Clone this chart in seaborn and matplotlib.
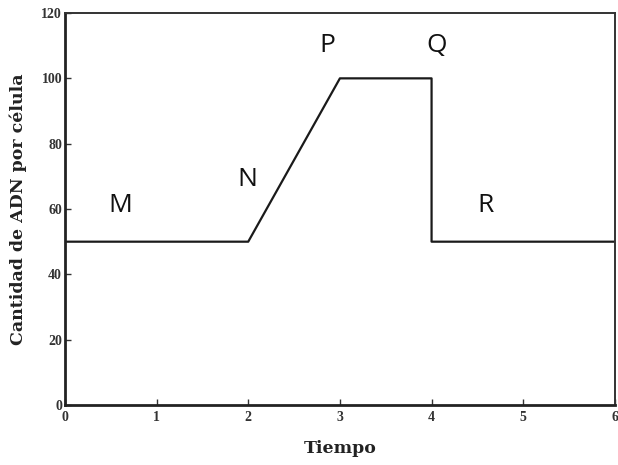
import matplotlib
matplotlib.use("Agg")
import matplotlib.pyplot as plt
import seaborn as sns
import pandas as pd

# Data
tiempo = [0, 2, 3, 4, 4, 6]
adn = [50, 50, 100, 100, 50, 50]
fase_labels = ["M", "N", "P", "Q", "R"]
fase_x = [0.6, 1.99, 2.86, 4.05, 4.59]
fase_y = [61, 69, 110, 110, 61]
xticks = [0, 1, 2, 3, 4, 5, 6]
yticks = [0, 20, 40, 60, 80, 100, 120]

sns.set_style("ticks")
plt.rcParams["font.family"] = ["Liberation Serif", "DejaVu Serif"]

df = pd.DataFrame({"Tiempo": tiempo, "ADN": adn})

fig = plt.figure(figsize=(6.18, 4.65), dpi=100)
ax = fig.add_axes([0.105, 0.129, 0.89, 0.843])
sns.lineplot(data=df, x="Tiempo", y="ADN", sort=False, ax=ax,
             color="#1a1a1a", linewidth=1.6, estimator=None)

ax.set_xlim(0, 6)
ax.set_ylim(0, 120)
ax.set_xticks(xticks)
ax.set_yticks(yticks)
ax.set_xticklabels([str(t) for t in xticks], fontsize=10, fontweight="bold", color="#222222")
ax.set_yticklabels([str(t) for t in yticks], fontsize=10, fontweight="bold", color="#222222")
ax.tick_params(direction="in", length=4, width=1, colors="#333333", pad=4)
ax.tick_params(axis="y", pad=2)
ax.set_xlabel("Tiempo", fontsize=12.5, fontweight="bold", color="#222222", labelpad=12,
              family=["DejaVu Serif"])
ax.set_ylabel("Cantidad de ADN por célula", fontsize=12.5, fontweight="bold", color="#222222",
              labelpad=10, family=["DejaVu Serif"])

for side in ["left", "bottom"]:
    ax.spines[side].set_linewidth(2)
    ax.spines[side].set_color("#222222")
for side in ["top", "right"]:
    ax.spines[side].set_linewidth(1.4)
    ax.spines[side].set_color("#333333")

for lab, x, y in zip(fase_labels, fase_x, fase_y):
    ax.text(x, y, lab, fontsize=19, family=["Open Sans", "DejaVu Sans"],
            ha="center", va="center", color="#111111")

fig.savefig("out.png", dpi=100)
